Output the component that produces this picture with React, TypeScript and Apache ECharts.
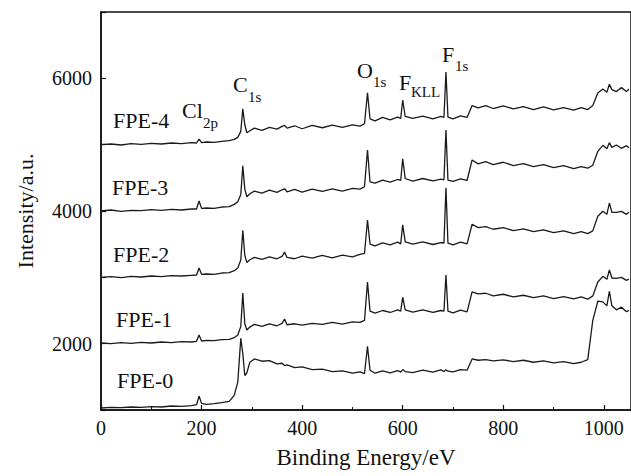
import React, { useEffect, useRef } from "react";
import * as echarts from "echarts";

// Binding energy grid (eV)
const energy = [
  0, 20, 40, 60, 80, 100, 120, 140, 160, 180,
  190, 195, 200, 210, 225, 240, 255, 265, 272, 278,
  282, 286, 290, 296, 305, 320, 335, 350, 360, 365,
  370, 385, 400, 420, 440, 460, 480, 500, 515, 524,
  530, 535, 545, 560, 575, 590, 596, 600, 605, 620,
  640, 660, 676, 682, 686, 690, 700, 715, 728, 738,
  750, 765, 780, 800, 820, 840, 860, 880, 900, 920,
  940, 955, 968, 978, 988, 998, 1006, 1011, 1016, 1025,
  1035, 1045, 1050,
];

const fpe0 = [
  1030, 1040, 1035, 1045, 1040, 1050, 1045, 1060, 1055, 1065,
  1080, 1210, 1100, 1085, 1095, 1110, 1130, 1220, 1420, 2080,
  1850, 1520, 1560, 1720, 1770, 1735, 1745, 1695, 1705, 1670,
  1680, 1640, 1650, 1610, 1615, 1580, 1590, 1555, 1575, 1550,
  1960, 1600, 1555, 1590, 1560, 1595, 1570, 1610, 1580, 1565,
  1600, 1570, 1605, 1580, 1605, 1585, 1575, 1610, 1600, 1770,
  1750, 1760, 1740, 1755, 1730, 1750, 1720, 1740, 1710, 1730,
  1700, 1720, 1760, 2350, 2640, 2630, 2570, 2790, 2570, 2510,
  2550, 2480, 2505,
];

const fpe1 = [
  2010, 2000, 2015, 2005, 2020, 2010, 2025, 2015, 2030, 2025,
  2035, 2130, 2040, 2050, 2045, 2060, 2065, 2090, 2130, 2260,
  2765, 2300, 2205, 2250, 2290, 2260, 2300, 2270, 2305, 2370,
  2285, 2300, 2280, 2305, 2290, 2320, 2295, 2330, 2320, 2350,
  2930, 2490, 2460, 2500, 2470, 2510, 2490, 2700, 2510, 2475,
  2510, 2470, 2500, 2490, 3035, 2490, 2465, 2505, 2480, 2780,
  2750, 2760, 2720, 2745, 2705, 2730, 2695, 2720, 2680, 2710,
  2675, 2705, 2670, 2720, 2930, 3015, 2970, 3110, 2990, 2985,
  3000, 2955, 2975,
];

const fpe2 = [
  3000, 3010, 2995, 3015, 3005, 3020, 3010, 3025, 3020, 3030,
  3035, 3140, 3045, 3050, 3045, 3065, 3070, 3100, 3140, 3260,
  3710, 3330, 3225, 3265, 3300, 3270, 3310, 3280, 3315, 3380,
  3300, 3280, 3320, 3290, 3330, 3295, 3335, 3310, 3345, 3360,
  3865, 3500, 3475, 3520, 3490, 3530, 3505, 3790, 3535, 3500,
  3535, 3495, 3525, 3515, 4350, 3515, 3490, 3530, 3505, 3800,
  3750, 3765, 3725, 3750, 3705, 3730, 3690, 3715, 3675, 3700,
  3660, 3690, 3660, 3700, 3920, 3995, 3950, 4120, 3980, 3980,
  3995, 3950, 3980,
];

const fpe3 = [
  4000, 4015, 3995, 4010, 4005, 4020, 4010, 4025, 4015, 4030,
  4030, 4150, 4040, 4045, 4040, 4060, 4065, 4100, 4140, 4250,
  4680, 4330, 4215, 4260, 4300, 4270, 4315, 4280, 4320, 4335,
  4290, 4325, 4285, 4330, 4295, 4335, 4300, 4340, 4330, 4365,
  4920, 4440, 4420, 4465, 4435, 4475, 4460, 4785, 4490, 4450,
  4490, 4455, 4480, 4470, 5220, 4465, 4445, 4485, 4460, 4770,
  4710, 4745, 4700, 4735, 4685, 4715, 4670, 4700, 4655, 4685,
  4640, 4670, 4645, 4690, 4900, 4990, 4940, 5030, 4960, 4995,
  4945, 4985, 4955,
];

const fpe4 = [
  5000, 5010, 4995, 5015, 5005, 5020, 5010, 5025, 5015, 5030,
  5025, 5085, 5030, 5040, 5035, 5050, 5060, 5080, 5110, 5200,
  5540, 5300, 5180, 5210, 5250, 5215, 5260, 5235, 5275, 5290,
  5250, 5285, 5240, 5290, 5255, 5295, 5260, 5300, 5280, 5315,
  5780, 5390, 5360, 5410, 5375, 5415, 5395, 5670, 5425, 5395,
  5430, 5390, 5425, 5410, 6095, 5415, 5390, 5435, 5410, 5590,
  5555, 5590, 5545, 5585, 5540, 5575, 5530, 5570, 5525, 5560,
  5520, 5560, 5530, 5590, 5780, 5840, 5790, 5910, 5830, 5800,
  5860, 5800, 5840,
];

const seriesNames = ["FPE-0", "FPE-1", "FPE-2", "FPE-3", "FPE-4"];
const seriesValues = [fpe0, fpe1, fpe2, fpe3, fpe4];

const xTickLabels = [0, 200, 400, 600, 800, 1000];
const yTickLabels = [2000, 4000, 6000];

// peak annotations: main text and subscript
const peakMain = ["Cl", "C", "O", "F", "F"];
const peakSub = ["2p", "1s", "1s", "KLL", "1s"];

const FONT = "'Liberation Serif', 'Times New Roman', serif";

export default function App() {
  const ref = useRef<HTMLDivElement>(null);

  useEffect(() => {
    if (!ref.current) return;
    const chart = echarts.init(ref.current, undefined, { renderer: "svg" });

    // layout (pixels) for text annotations
    const curveLabelPos = [
      [117, 369],
      [116, 308],
      [113, 243],
      [112, 176],
      [113, 109],
    ];
    const peakMainPos = [
      [182, 99],
      [233, 73],
      [357, 59],
      [399, 71],
      [442, 43],
    ];
    const peakSubPos = [
      [203, 115],
      [248, 89],
      [373, 74],
      [411, 84],
      [455, 58],
    ];

    const graphics: any[] = [];
    seriesNames.forEach((n, i) => {
      graphics.push({
        type: "text",
        x: curveLabelPos[i][0],
        y: curveLabelPos[i][1],
        style: {
          text: n,
          fontFamily: FONT,
          fontSize: 22,
          fill: "#111",
          align: "left",
          verticalAlign: "top",
        },
      });
    });
    peakMain.forEach((m, i) => {
      graphics.push({
        type: "text",
        x: peakMainPos[i][0],
        y: peakMainPos[i][1],
        style: {
          text: m,
          fontFamily: FONT,
          fontSize: 22,
          fill: "#111",
          align: "left",
          verticalAlign: "top",
        },
      });
      graphics.push({
        type: "text",
        x: peakSubPos[i][0],
        y: peakSubPos[i][1],
        style: {
          text: peakSub[i],
          fontFamily: FONT,
          fontSize: 15,
          fill: "#111",
          align: "left",
          verticalAlign: "top",
        },
      });
    });

    const axisText = { fontFamily: FONT, color: "#111" };

    chart.setOption({
      animation: false,
      backgroundColor: "#fff",
      grid: {
        left: 101,
        top: 12,
        width: 532,
        height: 398,
        show: true,
        borderColor: "#111",
        borderWidth: 1.5,
      },
      xAxis: {
        type: "value",
        min: 0,
        max: 1054,
        interval: 200,
        name: "Binding Energy/eV",
        nameLocation: "middle",
        nameGap: 36,
        nameTextStyle: { ...axisText, fontSize: 23 },
        axisLine: { show: true, lineStyle: { color: "#111", width: 1.5 } },
        axisTick: { show: true, inside: true, length: 5, lineStyle: { color: "#111", width: 1.2 } },
        minorTick: { show: true, splitNumber: 2, length: 3, lineStyle: { color: "#111", width: 1 } },
        splitLine: { show: false },
        axisLabel: {
          ...axisText,
          fontSize: 20,
          margin: 8,
          showMaxLabel: false,
          formatter: (v: number) => (xTickLabels.includes(v) ? String(v) : ""),
        },
      },
      yAxis: {
        type: "value",
        min: 1000,
        max: 7000,
        interval: 1000,
        name: "Intensity/a.u.",
        nameLocation: "middle",
        nameGap: 65,
        nameTextStyle: { ...axisText, fontSize: 22 },
        axisLine: { show: true, lineStyle: { color: "#111", width: 1.5 } },
        axisTick: { show: true, inside: true, length: 5, lineStyle: { color: "#111", width: 1.2 } },
        splitLine: { show: false },
        axisLabel: {
          ...axisText,
          fontSize: 20,
          margin: 9,
          formatter: (v: number) => (yTickLabels.includes(v) ? String(v) : ""),
        },
      },
      graphic: graphics,
      series: seriesValues.map((vals, si) => ({
        name: seriesNames[si],
        type: "line",
        data: energy.map((e, i) => [e, vals[i]]),
        showSymbol: false,
        symbol: "none",
        lineStyle: { color: "#1a1a1a", width: 1.3 },
        silent: true,
      })),
    });

    return () => chart.dispose();
  }, []);

  return (
    <div
      ref={ref}
      style={{ position: "absolute", left: 0, top: 0, width: 631, height: 476, background: "#fff" }}
    />
  );
}
